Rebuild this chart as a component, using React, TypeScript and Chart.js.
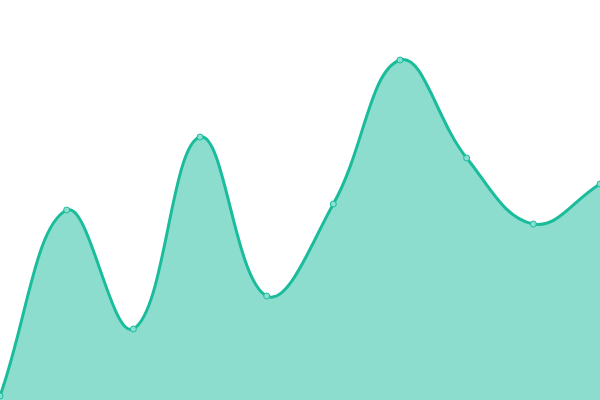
import Chart from 'chart.js/auto';
import { useEffect, useRef } from 'react'

const labels = ['1', '2', '3', '4', '5', '6', '7', '8', '9', '10']
const values = [1, 47.5, 17.75, 65.75, 26, 49, 85, 60.5, 44, 54]

export default function App() {
  const chartRef = useRef<HTMLCanvasElement>(null);

  useEffect(() => {
    document.body.style.margin = '0'
    if (!chartRef.current) return
    const chart = new Chart(chartRef.current, {
      type: 'line',
      data: {
        labels,
        datasets: [
          {
            data: values,
            borderColor: '#1abc9c',
            backgroundColor: 'rgba(26, 188, 156, 0.5)',
            pointBackgroundColor: 'rgba(137, 224, 208, 1)',
            pointBorderColor: '#1abc9c',
            pointRadius: 3,
            pointBorderWidth: 1,
            borderWidth: 3,
            tension: 0.4,
            fill: true,
          },
        ],
      },
      options: {
        responsive: false,
        animation: false,
        layout: { padding: 0, autoPadding: false },
        plugins: { legend: { display: false }, tooltip: { enabled: false } },
        scales: {
          x: { display: false, offset: false },
          y: { display: false, min: 0, max: 100 },
        },
      },
    })
    return () => chart.destroy()
  }, [])

  return (
    <canvas
      ref={chartRef}
      width={600}
      height={400}
      style={{ position: 'absolute', left: 0, top: 0, width: 600, height: 400 }}
    />
  )
}
